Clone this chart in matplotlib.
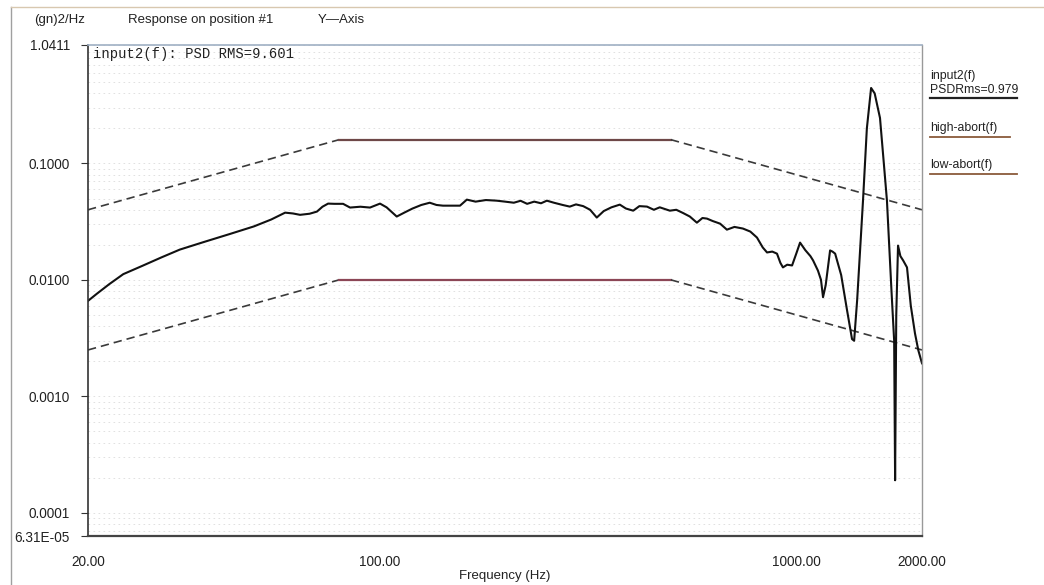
import matplotlib
matplotlib.use('Agg')
import matplotlib.pyplot as plt
from matplotlib.lines import Line2D
from matplotlib.ticker import LogLocator, FixedLocator, NullLocator, NullFormatter

# ---- data ----
freq = [20, 21, 22.5, 24.3, 27, 30, 33.2, 38, 43.8, 50, 55, 59.4, 62, 64.5, 68, 70.8,
        73, 75.3, 78, 81.8, 85, 90, 94.9, 100.3, 104, 110, 115, 120, 126, 132, 137,
        142, 150, 156, 162, 170, 180, 191, 200, 210, 218, 226, 235, 244, 252, 262,
        275, 286, 296, 308, 320, 332, 345, 360, 377, 390, 406, 420, 438, 455, 470,
        497, 515, 534, 555, 577, 595, 610, 630, 656, 681, 710, 744, 775, 804, 830,
        850, 875, 898, 915, 928, 950, 976, 1000, 1020, 1050, 1080, 1096, 1126, 1145,
        1158, 1175, 1204, 1220, 1238, 1280, 1322, 1359, 1375, 1398, 1444, 1475, 1510,
        1540, 1586, 1620, 1648, 1690, 1715, 1724, 1735, 1752, 1775, 1802, 1841, 1880,
        1924, 1960, 2000]
psd = [0.0066, 0.0076, 0.0092, 0.0112, 0.0132, 0.0156, 0.0182, 0.0212, 0.0248, 0.0288,
       0.0330, 0.0378, 0.0372, 0.0362, 0.0370, 0.0386, 0.0425, 0.0452, 0.0450, 0.0450,
       0.0418, 0.0425, 0.0418, 0.0452, 0.0420, 0.0350, 0.0380, 0.0410, 0.0440, 0.0460,
       0.0440, 0.0434, 0.0434, 0.0434, 0.0489, 0.0470, 0.0485, 0.0479, 0.0470, 0.0460,
       0.0478, 0.0450, 0.0470, 0.0455, 0.0479, 0.0460, 0.0440, 0.0426, 0.0445, 0.0430,
       0.0400, 0.0343, 0.0390, 0.0420, 0.0443, 0.0410, 0.0393, 0.0430, 0.0426, 0.0400,
       0.0420, 0.0393, 0.0400, 0.0376, 0.0350, 0.0310, 0.0340, 0.0336, 0.0320, 0.0304,
       0.0270, 0.0285, 0.0276, 0.0260, 0.0231, 0.0190, 0.0172, 0.0175, 0.0168, 0.0140,
       0.0128, 0.0135, 0.0133, 0.0170, 0.0209, 0.0180, 0.0160, 0.0147, 0.0120, 0.0100,
       0.0071, 0.0090, 0.0179, 0.0175, 0.0168, 0.0110, 0.0055, 0.0031, 0.0030, 0.0067,
       0.048, 0.20, 0.445, 0.40, 0.246, 0.10, 0.048, 0.008, 0.0030, 0.00019, 0.0050,
       0.0197, 0.0160, 0.0147, 0.0128, 0.0060, 0.00347, 0.00248, 0.00192]

abort_freq = [20, 80, 500, 2000]
high_abort = [0.04, 0.16, 0.16, 0.04]
low_abort = [0.0025, 0.01, 0.01, 0.0025]

xticks = [20, 100, 1000, 2000]
xtick_labels = ['20.00', '100.00', '1000.00', '2000.00']
yticks = [6.31e-5, 1e-4, 1e-3, 1e-2, 1e-1, 1.0411]
ytick_labels = ['6.31E-05', '0.0001', '0.0010', '0.0100', '0.1000', '1.0411']

plt.rcParams['font.family'] = ['Liberation Sans', 'DejaVu Sans']

W, H = 1044, 585
fig = plt.figure(figsize=(W / 100, H / 100), dpi=100)
L, R, T, B = 88, 922, 45, 536
ax = fig.add_axes([L / W, 1 - B / H, (R - L) / W, (B - T) / H])
ax.set_xscale('log')
ax.set_yscale('log')
ax.set_xlim(20, 2000)
ax.set_ylim(6.31e-5, 1.0411)

# faint horizontal grid (major + minor decades)
ax.yaxis.set_minor_locator(LogLocator(base=10, subs=range(2, 10), numticks=20))
ax.yaxis.set_minor_formatter(NullFormatter())
ax.xaxis.set_minor_locator(NullLocator())
ax.grid(True, which='both', axis='y', color='#dcdcdc', linestyle=(0, (2, 4)),
        linewidth=0.6)
ax.grid(False, axis='x')
ax.tick_params(axis='y', which='minor', length=0)

ax.yaxis.set_major_locator(FixedLocator(yticks))
ax.set_yticklabels(ytick_labels)
ax.xaxis.set_major_locator(FixedLocator(xticks))
ax.set_xticklabels(xtick_labels)
ax.tick_params(axis='y', which='major', direction='out', length=5, width=0.8,
               color='#333333', labelsize=9.8, pad=8, labelcolor='#222222')
ax.tick_params(axis='x', which='major', length=0, labelsize=9.8, pad=14,
               labelcolor='#222222')

# abort lines: sloped parts dashed, flat parts solid
for vals, flat_col in [(high_abort, '#6e4848'), (low_abort, '#8c4656')]:
    ax.plot(abort_freq[0:2], vals[0:2], color='#3a3a3a', lw=1.2,
            linestyle=(0, (5, 3)))
    ax.plot(abort_freq[1:3], vals[1:3], color=flat_col, lw=1.6)
    ax.plot(abort_freq[2:4], vals[2:4], color='#3a3a3a', lw=1.2,
            linestyle=(0, (5, 3)))

# response curve
ax.plot(freq, psd, color='#111111', lw=1.5)

for side, col, lw in [('left', '#333333', 1.2), ('bottom', '#444444', 1.6),
                      ('top', '#9fb0c4', 1.2), ('right', '#999999', 1.0)]:
    ax.spines[side].set_color(col)
    ax.spines[side].set_linewidth(lw)


def px(x, y):
    return x / W, 1 - y / H


fig.text(*px(505, 576), 'Frequency (Hz)', fontsize=9.5, ha='center', va='center',
         color='#222222')

# header texts
fs = 9.5
fig.text(*px(34, 20), '(gn)2/Hz', fontsize=fs, va='center', color='#222222')
fig.text(*px(128, 20), 'Response on position #1', fontsize=fs, va='center',
         color='#222222')
fig.text(*px(318, 20), 'Y\u2014Axis', fontsize=fs, va='center', color='#222222')

fig.text(*px(93, 54), 'input2(f): PSD RMS=9.601', family='Liberation Mono',
         fontsize=10, va='center', color='#222222')

# right-hand legend
fig.text(*px(930, 76), 'input2(f)', fontsize=8.8, va='center', color='#222222')
fig.text(*px(930, 90), 'PSDRms=0.979', fontsize=8.8, va='center', color='#222222')
fig.add_artist(Line2D([930 / W, 1017 / W], [1 - 98 / H] * 2, color='#222222', lw=1.6))
fig.text(*px(930, 128), 'high-abort(f)', fontsize=8.8, va='center', color='#222222')
fig.add_artist(Line2D([930 / W, 1010 / W], [1 - 137 / H] * 2, color='#8a5a3a', lw=1.3))
fig.text(*px(930, 165), 'low-abort(f)', fontsize=8.8, va='center', color='#222222')
fig.add_artist(Line2D([930 / W, 1017 / W], [1 - 174 / H] * 2, color='#8a5a3a', lw=1.3))

# scanned page frame
fig.add_artist(Line2D([11 / W, 11 / W], [0, 1 - 7 / H], color='#a0a0a0', lw=1.0))
fig.add_artist(Line2D([11 / W, 1], [1 - 7 / H] * 2, color='#d8c8b0', lw=1.0))

fig.savefig('out.png', dpi=100)
